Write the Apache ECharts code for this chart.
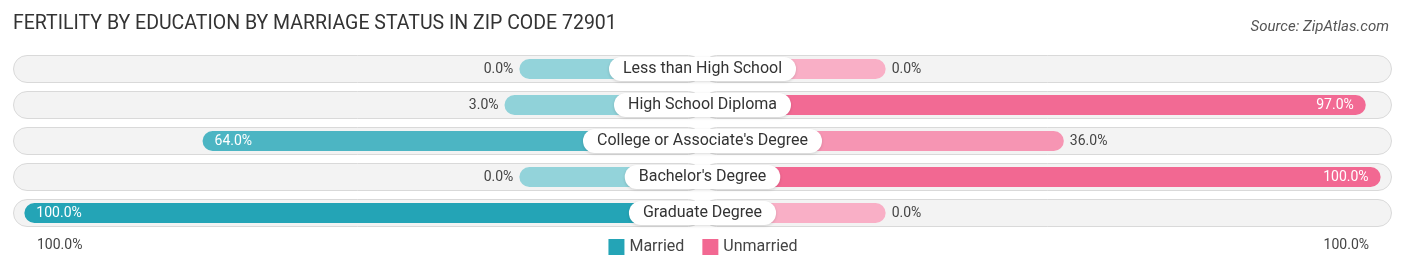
<!DOCTYPE html>
<html>
<head>
<meta charset="utf-8">
<script src="https://cdn.jsdelivr.net/npm/echarts@6/dist/echarts.min.js"></script>
<style>
  html, body { margin: 0; padding: 0; background: #fff; }
  #chart { width: 1406px; height: 269px; }
</style>
</head>
<body>
<div id="chart"></div>
<script>
// data
const categories = ['Less than High School', 'High School Diploma', "College or Associate's Degree", "Bachelor's Degree", 'Graduate Degree']
const married = [0.0, 3.0, 64.0, 0.0, 100.0]
const unmarried = [0.0, 97.0, 36.0, 100.0, 0.0]

const STUB = 37 // bars start with a fixed stub behind the centre label
const EDGE = 139.5

function mix (a, b, t) {
  const pa = a.match(/\w\w/g).map(h => parseInt(h, 16))
  const pb = b.match(/\w\w/g).map(h => parseInt(h, 16))
  return '#' + pa.map((c, i) => Math.round(c + (pb[i] - c) * t).toString(16).padStart(2, '0')).join('')
}

function barItems (vals, sign, light, dark) {
  return vals.map(v => {
    const inside = v > 50
    return {
      value: sign * (STUB + v),
      itemStyle: { color: mix(light, dark, v / 100) },
      label: {
        show: true,
        position: inside ? (sign < 0 ? 'insideLeft' : 'insideRight') : (sign < 0 ? 'left' : 'right'),
        distance: inside ? 12 : 6,
        color: inside ? '#fff' : '#444',
        fontSize: 14,
        fontFamily: 'Roboto',
        formatter: v.toFixed(1) + '%'
      }
    }
  })
}

let myChart = echarts.init(document.getElementById('chart'))
myChart.setOption({
  animation: false,
  title: [{
    text: 'FERTILITY BY EDUCATION BY MARRIAGE STATUS IN ZIP CODE 72901',
    left: 8,
    top: 9,
    textStyle: { fontSize: 19.5, fontWeight: 'normal', color: '#333', fontFamily: 'Roboto' }
  }, {
    text: 'Source: ZipAtlas.com',
    right: 12,
    top: 15,
    textStyle: { fontSize: 15, fontWeight: 'normal', fontStyle: 'italic', color: '#555', fontFamily: 'Roboto' }
  }],
  legend: {
    bottom: 9,
    left: 'center',
    icon: 'rect',
    itemWidth: 16,
    itemHeight: 16,
    itemGap: 18,
    data: ['Married', 'Unmarried'],
    textStyle: { fontSize: 16, color: '#444', fontFamily: 'Roboto' }
  },
  grid: { left: 12, right: 13, top: 51, bottom: 38 },
  xAxis: {
    type: 'value',
    min: -EDGE,
    max: EDGE,
    show: false
  },
  yAxis: [{
    type: 'category',
    data: categories,
    inverse: true,
    show: false
  }, {
    type: 'category',
    data: categories,
    inverse: true,
    show: false
  }],
  graphic: [{
    type: 'text',
    left: 37,
    top: 238,
    style: { text: '100.0%', fontSize: 14, fill: '#444', fontFamily: 'Roboto' }
  }, {
    type: 'text',
    right: 37,
    top: 238,
    style: { text: '100.0%', fontSize: 14, fill: '#444', fontFamily: 'Roboto' }
  }],
  series: [{
    name: 'bgLeft',
    type: 'bar',
    yAxisIndex: 1,
    stack: 'bg',
    barWidth: 28,
    silent: true,
    itemStyle: { color: '#f3f3f3', borderColor: '#d9d9d9', borderWidth: 1, borderRadius: 14 },
    data: categories.map(() => -EDGE + 0.2)
  }, {
    name: 'bgRight',
    type: 'bar',
    yAxisIndex: 1,
    stack: 'bg',
    barWidth: 28,
    silent: true,
    itemStyle: { color: '#f3f3f3', borderColor: '#d9d9d9', borderWidth: 1, borderRadius: 14 },
    data: categories.map(() => EDGE - 0.2)
  }, {
    name: 'Married',
    type: 'bar',
    stack: 'v',
    barWidth: 20,
    itemStyle: { color: '#24a4b6', borderRadius: 10 },
    data: barItems(married, -1, '#93d3da', '#24a4b6')
  }, {
    name: 'Unmarried',
    type: 'bar',
    stack: 'v',
    barWidth: 20,
    itemStyle: { color: '#f26892', borderRadius: 10 },
    data: barItems(unmarried, 1, '#f9afc6', '#f26892')
  }, {
    name: 'names',
    type: 'scatter',
    symbolSize: 0,
    silent: true,
    z: 10,
    zlevel: 1,
    itemStyle: { opacity: 1 },
    data: categories.map((c, i) => [0, i]),
    label: {
      show: true,
      position: 'inside',
      opacity: 1,
      formatter: p => categories[p.dataIndex],
      backgroundColor: '#fff',
      borderRadius: 12,
      padding: [4, 14],
      fontSize: 16,
      color: '#333',
      fontFamily: 'Roboto',
      shadowColor: 'rgba(0,0,0,0.15)',
      shadowBlur: 3,
      shadowOffsetY: 1
    },
    labelLayout: { hideOverlap: false }
  }]
})
</script>
</body>
</html>
